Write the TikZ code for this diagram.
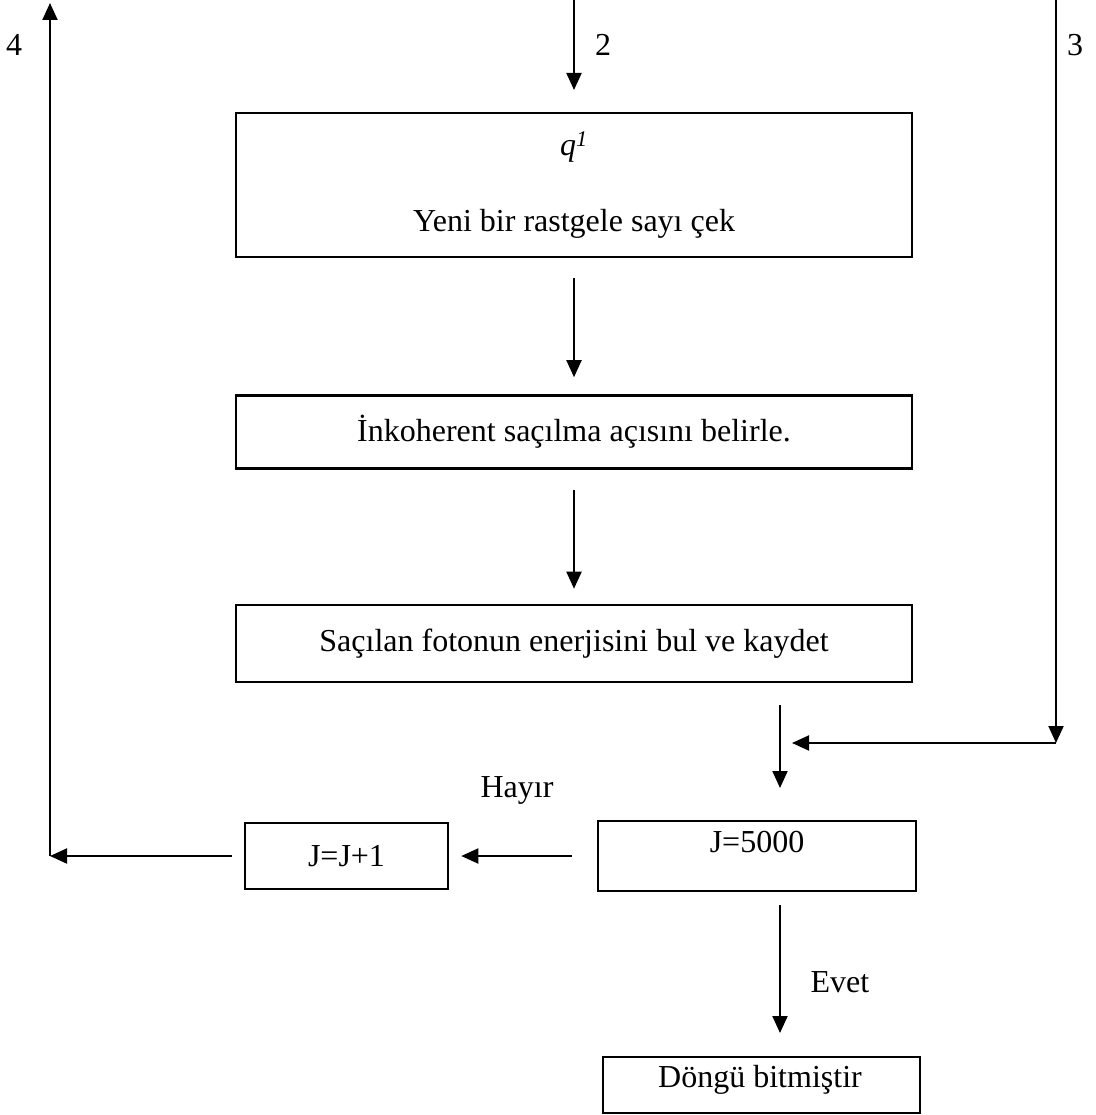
\documentclass[tikz,border=0pt]{standalone}
\usepackage{fontspec}
\setmainfont{Liberation Serif}
\usetikzlibrary{arrows.meta}

\tikzset{
  kutu/.style={draw, line width=2.6pt, inner sep=0pt, font=\fontsize{32}{38}\selectfont},
  yazi/.style={inner sep=0pt, font=\fontsize{32}{38}\selectfont},
  ok/.style={line width=2pt, -{Triangle[length=17pt,width=15pt]}}
}

\begin{document}
\begin{tikzpicture}[x=1pt, y=-1pt]

  \useasboundingbox (0,0) rectangle (1095,1115);

  %--------------------------------------------
  % Ana kutular (yukaridan asagiya)
  %--------------------------------------------
  \node[kutu, minimum width=676pt, minimum height=144pt, align=center] (sayi) at (574,185)
    {\textit{q}\textsuperscript{\textit{1}}\\[38pt]Yeni bir rastgele sayı çek};
  \node[kutu, minimum width=676pt, minimum height=73pt] (aci) at (574,432)
    {İnkoherent saçılma açısını belirle.};
  \node[kutu, minimum width=676pt, minimum height=77pt] (enerji) at (574,643.5)
    {Saçılan fotonun enerjisini bul ve kaydet};

  %--------------------------------------------
  % Kontrol, sayac ve bitis kutulari
  %--------------------------------------------
  \node[kutu, minimum width=318pt, minimum height=70pt] (kontrol) at (757,856) {};
  \node[yazi] (kontrol-t) at (757,842) {J=5000};
  \node[kutu, minimum width=203pt, minimum height=66pt] (artir) at (346.5,856) {J=J+1};
  \node[kutu, minimum width=317pt, minimum height=56pt] (son) at (761.5,1085) {};
  \node[yazi] (son-t) at (760,1080) {Döngü bitmiştir};

  %--------------------------------------------
  % Etiketler
  %--------------------------------------------
  \node[yazi] (n4) at (14,45) {4};
  \node[yazi] (n2) at (603,45) {2};
  \node[yazi] (n3) at (1075,45) {3};
  \node[yazi] (hayir) at (517,790) {Hayır};
  \node[yazi] (evet) at (840,982) {Evet};

  %--------------------------------------------
  % Serbest uclar
  %--------------------------------------------
  \coordinate (ust-orta) at (574,0);
  \coordinate (ust-orta-uc) at (574,90);
  \coordinate (ust-sag) at (1056,0);
  \coordinate (sag-kose) at (1056,743);
  \coordinate (sag-uc) at (792,743);
  \coordinate (ara-bas) at (780,705);
  \coordinate (ara-uc) at (780,788);
  \coordinate (sol-kose) at (50,856);
  \coordinate (ust-sol) at (50,3);
  \coordinate (evet-bas) at (780,905);
  \coordinate (evet-uc) at (780,1033);

  %--------------------------------------------
  % Oklar
  %--------------------------------------------
  \draw[ok] (ust-orta) -- (ust-orta-uc);
  \draw[ok] ([yshift=-20pt]sayi.south) -- ([yshift=17pt]aci.north);
  \draw[ok] ([yshift=-20pt]aci.south) -- ([yshift=15pt]enerji.north);
  \draw[ok] (ara-bas) -- (ara-uc);
  \draw[ok] (ust-sag) -- (sag-kose);
  \draw[ok] (sag-kose) -- (sag-uc);
  \draw[ok] ([xshift=-25pt]kontrol.west) -- ([xshift=12pt]artir.east);
  \draw[ok] ([xshift=-12pt]artir.west) -- (sol-kose);
  \draw[ok] (sol-kose) -- (ust-sol);
  \draw[ok] (evet-bas) -- (evet-uc);

\end{tikzpicture}
\end{document}
